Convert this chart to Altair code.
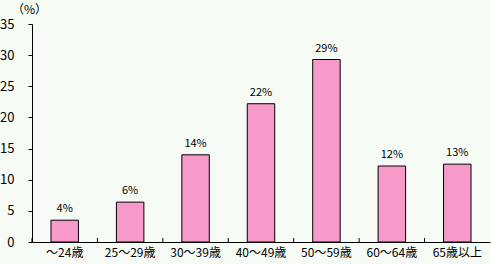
import altair as alt
import pandas as pd

categories = ["～24歳", "25～29歳", "30～39歳", "40～49歳", "50～59歳", "60～64歳", "65歳以上"]
values = [3.5, 6.4, 14.0, 22.2, 29.3, 12.2, 12.5]
labels = ["4%", "6%", "14%", "22%", "29%", "12%", "13%"]
y_ticks = [0, 5, 10, 15, 20, 25, 30, 35]

df = pd.DataFrame({"cat": categories, "val": values, "lab": labels})

FONT = "Noto Sans CJK JP"
W, H = 458, 218

xscale = alt.Scale(domain=categories, paddingInner=0.58, paddingOuter=0.29)
yscale = alt.Scale(domain=[0, 35], nice=False)

xaxis = alt.Axis(title=None, labelAngle=0, ticks=False, labelPadding=5,
                 labelFont=FONT, labelFontSize=12, labelColor="black",
                 labelOverlap=False, labelFlush=False,
                 domainColor="black", grid=False)
yaxis = alt.Axis(title="（%）", titleAngle=0, titleX=-3, titleY=-15,
                 titleBaseline="middle",
                 titleFont=FONT, titleFontSize=12, titleFontWeight="normal",
                 titleColor="black", titleAlign="center",
                 values=y_ticks, grid=False,
                 labelOverlap=False, labelFlush=False,
                 tickSize=4, tickColor="black", labelPadding=14,
                 labelFont=FONT, labelFontSize=13, labelColor="black",
                 domainColor="black")

base = alt.Chart(df)

bars = base.mark_bar(color="#F799C9", stroke="black", strokeWidth=1).encode(
    x=alt.X("cat:N", scale=xscale, sort=categories, axis=xaxis),
    y=alt.Y("val:Q", scale=yscale, axis=yaxis),
)

text = base.mark_text(baseline="bottom", dy=-6, font=FONT, fontSize=11, color="black").encode(
    x=alt.X("cat:N", scale=xscale, sort=categories, axis=xaxis),
    y=alt.Y("val:Q", scale=yscale, axis=yaxis),
    text="lab:N",
)

ticks = base.mark_rule(color="black", strokeWidth=1, xOffset=-19).encode(
    x=alt.X("cat:N", scale=xscale, sort=categories, bandPosition=0, axis=xaxis),
    y=alt.value(H),
    y2=alt.value(H - 4),
)

chart = alt.layer(bars, text, ticks).properties(
    width=W, height=H,
    background="#F6FBF6",
    autosize=alt.AutoSizeParams(type="none"),
    padding={"left": 32, "top": 24, "right": 1, "bottom": 22},
).configure_view(stroke=None)

chart.save("out.html", embed_options={"renderer": "svg", "actions": False})
